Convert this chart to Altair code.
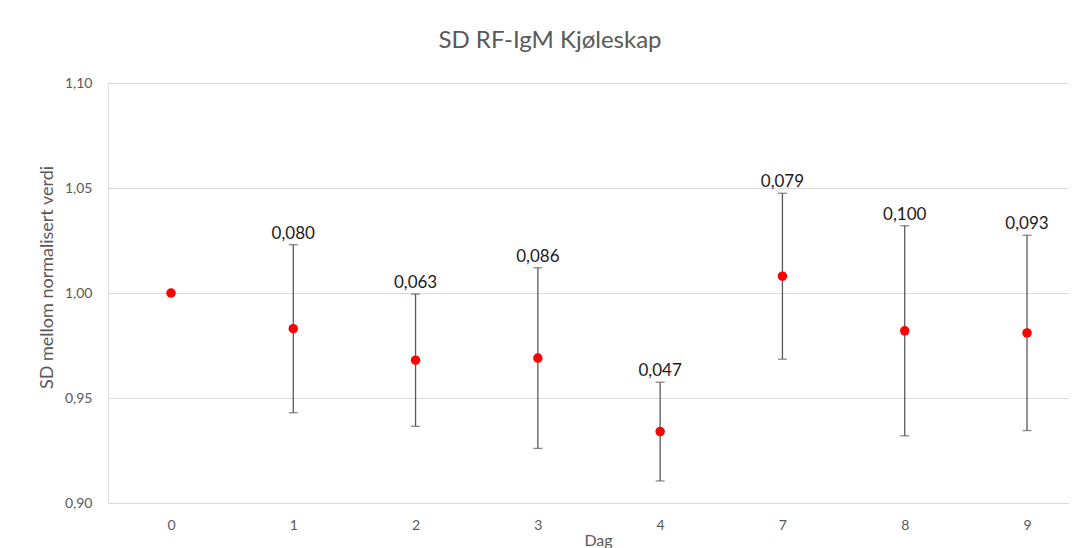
import altair as alt
import pandas as pd

days = ["0", "1", "2", "3", "4", "7", "8", "9"]
means = [1.000, 0.983, 0.968, 0.969, 0.934, 1.008, 0.982, 0.981]
sds = [0.000, 0.080, 0.063, 0.086, 0.047, 0.079, 0.100, 0.093]
y_ticks = [0.90, 0.95, 1.00, 1.05, 1.10]

df = pd.DataFrame({"dag": days, "mean": means, "sd": sds})

FONT = "Lato"
GRID = "#D9D9D9"
TXT = "#595959"

x_enc = alt.X(
    "dag:N",
    sort=days,
    scale=alt.Scale(type="point", padding=0.515),
    axis=alt.Axis(
        title="Dag",
        labelAngle=0,
        ticks=False,
        grid=False,
        domainColor=GRID,
        domainWidth=1,
        labelPadding=15,
        labelFontSize=14,
        labelColor=TXT,
        labelFont=FONT,
        titleFont=FONT,
        titleFontSize=16,
        titleFontWeight="normal",
        titleColor=TXT,
        titleX=490,
        titleY=37,
        titleAlign="center",
        titleBaseline="middle",
    ),
)

y_scale = alt.Scale(domain=[0.90, 1.10], nice=False, zero=False)

base = alt.Chart(df).transform_calculate(
    lo="datum.mean - datum.sd / 2",
    hi="datum.mean + datum.sd / 2",
    lab="replace(format(datum.sd, '.3f'), '.', ',')",
)

bars = base.transform_filter("datum.sd > 0").mark_rule(
    color="#595959", strokeWidth=1.3
).encode(
    x=x_enc,
    y=alt.Y(
        "lo:Q",
        scale=y_scale,
        axis=alt.Axis(
            title="SD mellom normalisert verdi",
            values=y_ticks,
            labelExpr="replace(format(datum.value, '.2f'), '.', ',')",
            ticks=False,
            domain=False,
            grid=True,
            gridColor=GRID,
            gridWidth=1,
            labelPadding=16,
            labelFontSize=14,
            labelColor=TXT,
            labelFont=FONT,
            titleFont=FONT,
            titleFontSize=18,
            titleFontWeight="normal",
            titleColor=TXT,
            titleX=-61,
            titleY=194,
            titleAngle=270,
            titleAlign="center",
            titleBaseline="middle",
        ),
    ),
    y2="hi:Q",
)

cap_lo = base.transform_filter("datum.sd > 0").mark_tick(
    color="#595959", thickness=1.3, size=9
).encode(x=x_enc, y=alt.Y("lo:Q", scale=y_scale))

cap_hi = base.transform_filter("datum.sd > 0").mark_tick(
    color="#595959", thickness=1.3, size=9
).encode(x=x_enc, y=alt.Y("hi:Q", scale=y_scale))

points = base.mark_point(
    filled=True, color="#FF0000", size=90, opacity=1, shape="circle"
).encode(x=x_enc, y=alt.Y("mean:Q", scale=y_scale))

labels = base.transform_filter("datum.sd > 0").mark_text(
    baseline="bottom", dy=-2, fontSize=17, font=FONT, color="#1a1a1a"
).encode(x=x_enc, y=alt.Y("hi:Q", scale=y_scale), text="lab:N")

chart = (
    alt.layer(bars, cap_lo, cap_hi, points, labels)
    .properties(
        width=982,
        height=420,
        title=alt.TitleParams(
            "SD RF-IgM Kjøleskap",
            font=FONT,
            fontSize=24,
            fontWeight="normal",
            color=TXT,
            anchor="middle",
            offset=23,
            dx=-49,
        ),
        autosize=alt.AutoSizeParams(type="none"),
        padding={"left": 100, "top": 75, "right": -21, "bottom": 45},
    )
    .configure_view(stroke=None)
    .configure(background="white")
)

chart.save("out.html", embed_options={"renderer": "svg", "actions": False})
